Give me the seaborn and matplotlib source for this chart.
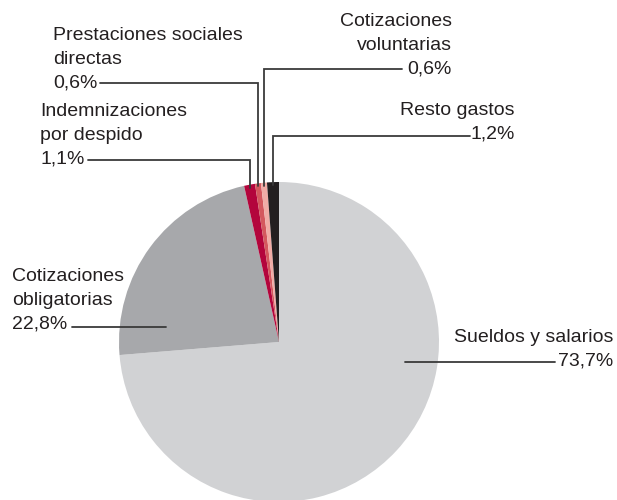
import numpy as np
import matplotlib
matplotlib.use("Agg")
import matplotlib.pyplot as plt
import seaborn as sns

sns.set_theme(style="white")
plt.rcParams['font.family'] = ['Liberation Sans', 'DejaVu Sans']

# Data (clockwise from 12 o'clock)
categories = ["Sueldos y salarios", "Cotizaciones obligatorias", "Indemnizaciones por despido",
              "Prestaciones sociales directas", "Cotizaciones voluntarias", "Resto gastos"]
values = [73.7, 22.8, 1.1, 0.6, 0.6, 1.2]
value_labels = ["73,7%", "22,8%", "1,1%", "0,6%", "0,6%", "1,2%"]
label_texts = ["Sueldos y salarios", "Cotizaciones\nobligatorias", "Indemnizaciones\npor despido",
               "Prestaciones sociales\ndirectas", "Cotizaciones\nvoluntarias", "Resto gastos"]
colors = ["#d1d2d4", "#a7a8ab", "#b3053c", "#d4585e", "#f1aca6", "#231f20"]

W, H = 617, 500
fig = plt.figure(figsize=(W / 100, H / 100), dpi=100)
ax = fig.add_axes([0, 0, 1, 1])

cx, cy_pix, R = 279, 342, 160
cy = H - cy_pix
wedges, _ = ax.pie(values, colors=colors, startangle=90, counterclock=False,
                   center=(cx, cy), radius=R, frame=True,
                   wedgeprops=dict(linewidth=0))
ax.set_xlim(0, W)
ax.set_ylim(0, H)
ax.axis("off")

def P(y):
    return H - y

lc = "#3a3a3a"
lw = 1.3
fs = 14
ls = 1.5
tc = "#231f20"

def mid_angle(w):
    return np.deg2rad((w.theta1 + w.theta2) / 2)

def label(i, x, pct_baseline, ha):
    txt = label_texts[i] + "\n" + value_labels[i]
    # va="baseline" anchors the baseline of the last (percentage) line
    ax.text(x, P(pct_baseline), txt, ha=ha, va="baseline",
            fontsize=fs, color=tc, linespacing=ls, zorder=4)

# Small slices: vertical leader from pie edge up, then horizontal
small = {
    2: dict(hy=160, hx_end=88, ha="left", tx=40, pb=163.5),
    3: dict(hy=83, hx_end=100, ha="left", tx=53, pb=87.5),
    4: dict(hy=69, hx_end=402, ha="right", tx=452, pb=73.3),
    5: dict(hy=136, hx_end=470, ha="right", tx=515, pb=138.5),
}
for i, d in small.items():
    a = mid_angle(wedges[i])
    x0 = cx + R * np.cos(a)
    y0 = cy + R * np.sin(a) - 3
    ax.plot([x0, x0, d["hx_end"]], [y0, P(d["hy"]), P(d["hy"])], color=lc, lw=lw,
            solid_joinstyle="miter", zorder=3)
    label(i, d["tx"], d["pb"], d["ha"])

# Large slices
ax.plot([72, 166], [P(326.5), P(326.5)], color=lc, lw=lw, zorder=3)
label(1, 12, 328.3, "left")
ax.plot([405, 555], [P(361.5), P(361.5)], color=lc, lw=lw, zorder=3)
label(0, 613, 365, "right")

fig.savefig("out.png", dpi=100, facecolor="white")
